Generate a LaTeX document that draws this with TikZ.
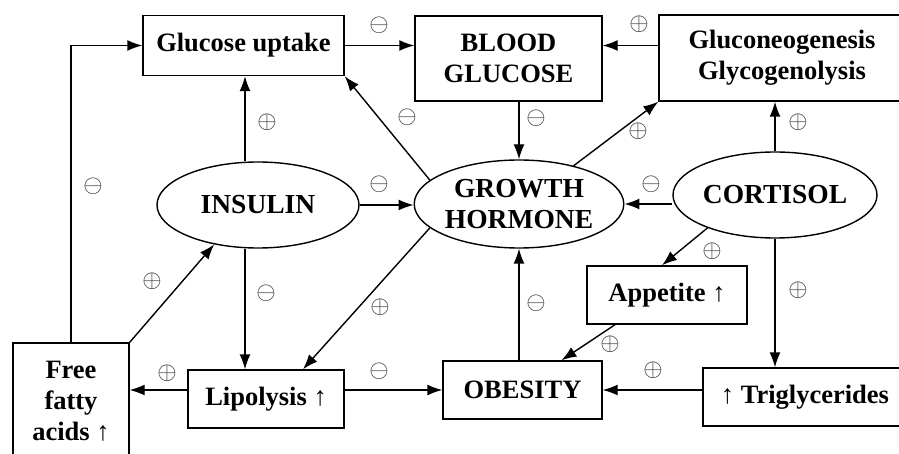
\documentclass[tikz,border=0pt]{standalone}
\usepackage{fontspec}
\setmainfont{Liberation Serif}
\usetikzlibrary{arrows.meta,shapes.geometric}
\begin{document}
\begin{tikzpicture}[x=1pt,y=-1pt,
  box/.style={draw,line width=1.4pt,inner sep=0pt,align=center,font=\fontsize{26.5}{31}\selectfont\bfseries},
  oval/.style={draw,ellipse,line width=1.4pt,inner sep=0pt,align=center,font=\fontsize{27.5}{31}\selectfont\bfseries},
  arr/.style={line width=1.4pt,-{Latex[length=15pt,width=11pt]}},
  sgn/.style={text=black!80,inner sep=0pt,font=\fontsize{23}{23}\selectfont}]
\useasboundingbox (0,0) rectangle (899,454);
\fill[white] (0,0) rectangle (899,454);
\clip (0,0) rectangle (899,454);
% nodes
\node[box,minimum width=201,minimum height=60] (gu) at (243.5,45.5) {Glucose uptake};
\node[box,minimum width=187,minimum height=85] (bg) at (508.5,58.5) {BLOOD\\GLUCOSE};
\node[box,minimum width=246,minimum height=86] (gn) at (782,58) {Gluconeogenesis\\Glycogenolysis};
\node[oval,minimum width=202,minimum height=86] (ins) at (258,205) {INSULIN};
\node[oval,minimum width=208,minimum height=88] (gh) at (519,204) {GROWTH\\HORMONE};
\node[oval,minimum width=204,minimum height=86] (cort) at (775,195) {CORTISOL};
\node[box,minimum width=116,minimum height=117] (ffa) at (71,401.5) {Free\\fatty\\acids {\mdseries ↑}};
\node[box,minimum width=156,minimum height=58] (lip) at (266,399) {Lipolysis {\mdseries ↑}};
\node[box,minimum width=159,minimum height=58] (ob) at (522.5,390) {OBESITY};
\node[box,minimum width=160,minimum height=58] (app) at (667,295) {Appetite {\mdseries ↑}};
\node[box,minimum width=204,minimum height=58] (tg) at (805,397) {{\mdseries ↑} Triglycerides};
% connectors
\draw[arr] (ffa.north) |- (gu.west);
\draw[arr] (ffa.north east) -- (ins.222);
\draw[arr] (lip.west |- ob.west) -- (ffa.east |- ob.west);
\draw[arr] (lip.east |- ob.west) -- (ob.west);
\draw[arr] ([xshift=-13pt]ins.south) -- ([xshift=-13pt]ins.south |- lip.north);
\draw[arr] ([xshift=-13pt]ins.north) -- ([xshift=-13pt]ins.north |- gu.south);
\draw[arr] (ins.east) -- (ins.east -| gh.west);
\draw[arr] (gu.east) -- (gu.east -| bg.west);
\draw[arr] (gh.165) -- (gu.south east);
\draw[arr] (gh.north |- bg.south) -- (gh.north);
\draw[arr] (gh.35) -- (gn.south west);
\draw[arr] (gn.west |- gu.east) -- (bg.east |- gu.east);
\draw[arr] (cort.north) -- (cort.north |- gn.south);
\draw[arr] (gh.east -| cort.west) -- (gh.east);
\draw[arr] (cort.206) -- ([xshift=-5pt]app.north);
\draw[arr] (cort.south) -- (cort.south |- tg.north);
\draw[arr] ([xshift=-52pt]app.south) -- ([xshift=39pt]ob.north);
\draw[arr] (tg.west |- ob.east) -- (ob.east);
\draw[arr] (ob.north -| gh.south) -- (gh.south);
\draw[arr] (gh.195) -- ([xshift=37pt]lip.north);
% signs
\node[sgn] (s1) at (93,186) {$\ominus$};
\node[sgn] (s2) at (152,281) {$\oplus$};
\node[sgn] (s3) at (167,373) {$\oplus$};
\node[sgn] (s4) at (266,293) {$\ominus$};
\node[sgn] (s5) at (267,122) {$\oplus$};
\node[sgn] (s6) at (379,184) {$\ominus$};
\node[sgn] (s7) at (379,25) {$\ominus$};
\node[sgn] (s8) at (407,117) {$\ominus$};
\node[sgn] (s9) at (536,118) {$\ominus$};
\node[sgn] (s10) at (638,131) {$\oplus$};
\node[sgn] (s11) at (639,24) {$\oplus$};
\node[sgn] (s12) at (798,122) {$\oplus$};
\node[sgn] (s13) at (651,184) {$\ominus$};
\node[sgn] (s14) at (712,251) {$\oplus$};
\node[sgn] (s15) at (798,290) {$\oplus$};
\node[sgn] (s16) at (610,344) {$\oplus$};
\node[sgn] (s17) at (653,370) {$\oplus$};
\node[sgn] (s18) at (536,303) {$\ominus$};
\node[sgn] (s19) at (380,307) {$\oplus$};
\node[sgn] (s20) at (379,371) {$\ominus$};
\end{tikzpicture}
\end{document}
